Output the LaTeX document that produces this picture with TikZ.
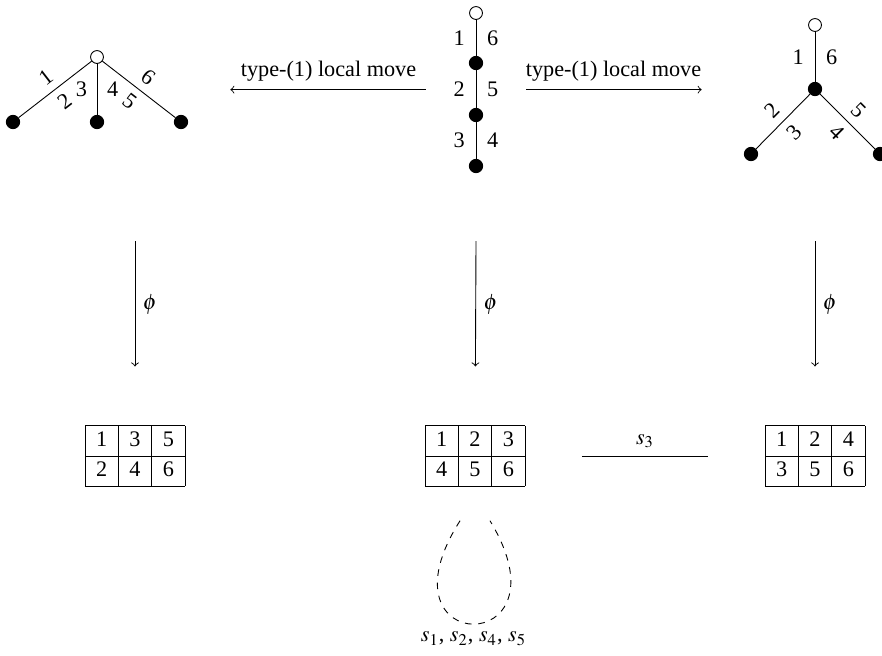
\documentclass[tikz,border=0pt]{standalone}
\usepackage{mathptmx}
\usepackage{fontspec}
\setmainfont{Liberation Serif}
\usepackage{tikz}
\usetikzlibrary{arrows,fit,backgrounds}
\pgfdeclarelayer{background}
\pgfsetlayers{background,main}
\setlength{\tabcolsep}{5pt}
\renewcommand{\arraystretch}{1.1}

\begin{document}
\begin{tikzpicture}[x=0.45pt,y=-0.45pt]
    \useasboundingbox (0,0) rectangle (882,655);

    \tikzset{ST/.style={draw=black,solid,thin}}
    \tikzset{BN/.style={thin,circle,inner sep=0mm,minimum size=6pt,fill=black,draw}}
    \tikzset{WN/.style={thin,circle,inner sep=0mm,minimum size=5.8pt,fill=white,draw}}
    \tikzset{FT/.style={inner sep=0mm,outer sep=0mm}}
    \tikzset{TB/.style={inner sep=0mm,outer xsep=25.6pt,outer ysep=15.3pt}}
    \tikzset{MV/.style={ST,->,shorten <=19.5pt,shorten >=19pt}}
    \tikzset{PH/.style={ST,->,shorten >=11.2pt}}
    \tikzset{LP/.style={thin,dashed}}

    % left tree
    \node (l0) [WN] at (97, 57) {};
    	\node (l1) [BN] at (13, 122) {};
    	\node (l2) [BN] at (97, 122) {};
    	\node (l3) [BN] at (181, 122) {};
    % middle tree
    \node (m0) [WN] at (476, 13) {};
    	\node (m1) [BN] at (476, 63) {};
    		\node (m2) [BN] at (476, 115) {};
    			\node (m3) [BN] at (476, 166) {};
    % right tree
    \node (r0) [WN] at (815, 25) {};
    	\node (r1) [BN] at (815, 89) {};
    		\node (r2) [BN] at (751, 154) {};
    		\node (r3) [BN] at (880, 154) {};

    \node (F1) [FT, fit = (l0)(l1)(l2)(l3)] {};
    \node (F2) [FT, fit = (m0)(m1)(m2)(m3)] {};
    \node (F3) [FT, fit = (r0)(r1)(r2)(r3)] {};

    % tableaux
    \node (T1) [TB] at (135, 456) {\begin{tabular}{|c|c|c|}\hline 1 & 3 & 5\\\hline 2 & 4 & 6\\\hline\end{tabular}};
    \node (T2) [TB] at (475, 456) {\begin{tabular}{|c|c|c|}\hline 1 & 2 & 3\\\hline 4 & 5 & 6\\\hline\end{tabular}};
    \node (T3) [TB] at (815, 456) {\begin{tabular}{|c|c|c|}\hline 1 & 2 & 4\\\hline 3 & 5 & 6\\\hline\end{tabular}};

    \coordinate (p1) at (135, 241);
    \coordinate (p2) at (476, 241);
    \coordinate (p3) at (815, 241);

    \begin{pgfonlayer}{background}
    	\path[ST] (l0) -- node[above,sloped] {1} node[below,sloped] {2} (l1);
    	\path[ST] (l0) -- node[left=1pt] {3} node[right=1pt] {4} (l2);
    	\path[ST] (l0) -- node[above,sloped] {6} node[below,sloped] {5} (l3);
    	\path[ST] (m0) -- node[left=1.5pt] {1} node[right=1.5pt] {6} (m1);
    		\path[ST] (m1) -- node[left=1.5pt] {2} node[right=1.5pt] {5} (m2);
    			\path[ST] (m2) -- node[left=1.5pt] {3} node[right=1.5pt] {4} (m3);
    	\path[ST] (r0) -- node[left=1.5pt] {1} node[right=1.5pt] {6} (r1);
    		\path[ST] (r1) -- node[above,sloped] {2} node[below,sloped] {3} (r2);
    		\path[ST] (r1) -- node[above,sloped] {5} node[below,sloped] {4} (r3);
    \end{pgfonlayer}

    \draw[MV] (F2) -- node[above] {type-(1) local move} (F1);
    \draw[MV] (F2) -- node[above] {type-(1) local move} (F3);

    \draw[PH] (p1) -- node[pos=0.42,right] {$\phi$} (T1);
    \draw[PH] (p2) -- node[pos=0.42,right] {$\phi$} (T2);
    \draw[PH] (p3) -- node[pos=0.42,right] {$\phi$} (T3);

    \draw[ST] (T2) -- node[above] {$s_3$} (T3);
    \draw[LP] (T2.-103) .. controls +(-88,138) and +(84,138) .. (T2.-77)
        node[pos=0.5,below] {$s_1$, $s_2$, $s_4$, $s_5$};
\end{tikzpicture}
\end{document}
